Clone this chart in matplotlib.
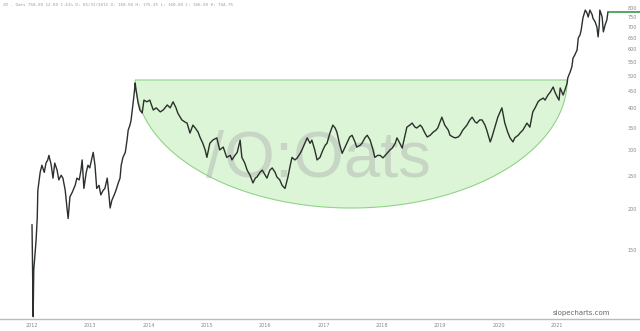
import numpy as np
import matplotlib
matplotlib.use('Agg')
import matplotlib.pyplot as plt
from matplotlib.patches import Polygon


# oats futures (decimal year, price)
dates = [
    2012.00, 2012.02, 2012.03, 2012.07, 2012.09, 2012.10, 2012.14, 2012.17, 2012.21, 2012.24,
    2012.27, 2012.29, 2012.33, 2012.36, 2012.39, 2012.43, 2012.46, 2012.50, 2012.53, 2012.57,
    2012.60, 2012.62, 2012.65, 2012.69, 2012.74, 2012.77, 2012.81, 2012.84, 2012.86, 2012.89,
    2012.93, 2012.96, 2012.99, 2013.03, 2013.05, 2013.08, 2013.11, 2013.15, 2013.18, 2013.22,
    2013.25, 2013.29, 2013.32, 2013.34, 2013.37, 2013.41, 2013.44, 2013.48, 2013.51, 2013.53,
    2013.56, 2013.60, 2013.63, 2013.65, 2013.68, 2013.70, 2013.73, 2013.75, 2013.77, 2013.78,
    2013.82, 2013.85, 2013.89, 2013.92, 2013.97, 2014.02, 2014.08, 2014.13, 2014.20, 2014.25,
    2014.32, 2014.37, 2014.42, 2014.47, 2014.50, 2014.57, 2014.62, 2014.66, 2014.71, 2014.76,
    2014.80, 2014.85, 2014.88, 2014.93, 2014.97, 2015.00, 2015.05, 2015.10, 2015.17, 2015.22,
    2015.28, 2015.34, 2015.40, 2015.43, 2015.48, 2015.52, 2015.57, 2015.60, 2015.65, 2015.69,
    2015.74, 2015.79, 2015.83, 2015.86, 2015.91, 2015.95, 2016.00, 2016.03, 2016.08, 2016.12,
    2016.17, 2016.20, 2016.25, 2016.29, 2016.34, 2016.39, 2016.43, 2016.46, 2016.51, 2016.55,
    2016.60, 2016.63, 2016.68, 2016.72, 2016.77, 2016.80, 2016.85, 2016.89, 2016.94, 2016.99,
    2017.03, 2017.06, 2017.11, 2017.16, 2017.20, 2017.23, 2017.28, 2017.32, 2017.37, 2017.40,
    2017.45, 2017.49, 2017.54, 2017.57, 2017.63, 2017.66, 2017.71, 2017.75, 2017.80, 2017.85,
    2017.88, 2017.93, 2017.97, 2018.02, 2018.09, 2018.14, 2018.18, 2018.23, 2018.26, 2018.31,
    2018.35, 2018.40, 2018.43, 2018.48, 2018.52, 2018.57, 2018.60, 2018.66, 2018.69, 2018.74,
    2018.78, 2018.83, 2018.88, 2018.93, 2018.96, 2019.00, 2019.03, 2019.08, 2019.14, 2019.17,
    2019.22, 2019.26, 2019.31, 2019.34, 2019.39, 2019.46, 2019.51, 2019.55, 2019.60, 2019.63,
    2019.68, 2019.72, 2019.77, 2019.80, 2019.86, 2019.89, 2019.94, 2019.99, 2020.03, 2020.06,
    2020.11, 2020.16, 2020.20, 2020.25, 2020.28, 2020.34, 2020.37, 2020.42, 2020.49, 2020.54,
    2020.59, 2020.63, 2020.68, 2020.71, 2020.77, 2020.80, 2020.85, 2020.89, 2020.94, 2020.97,
    2021.01, 2021.04, 2021.06, 2021.09, 2021.11, 2021.14, 2021.18, 2021.19, 2021.23, 2021.26,
    2021.28, 2021.31, 2021.35, 2021.37, 2021.40, 2021.42, 2021.45, 2021.49, 2021.52, 2021.54,
    2021.57, 2021.61, 2021.62, 2021.66, 2021.69, 2021.71, 2021.73, 2021.74, 2021.78, 2021.80,
    2021.83, 2021.86, 2021.88,
]
prices = [
    179, 95, 131, 161, 188, 227, 257, 270, 257, 274,
    280, 289, 270, 247, 274, 261, 244, 252, 247, 227,
    201, 187, 217, 224, 235, 247, 244, 261, 280, 230,
    257, 270, 265, 284, 295, 270, 230, 235, 220, 227,
    230, 247, 220, 201, 212, 220, 227, 239, 247, 270,
    285, 295, 321, 344, 356, 369, 409, 438, 476, 460,
    415, 395, 387, 423, 418, 423, 395, 401, 390, 395,
    409, 401, 418, 401, 387, 369, 364, 361, 337, 356,
    349, 339, 328, 314, 300, 285, 314, 321, 326, 300,
    306, 285, 289, 280, 289, 295, 321, 285, 274, 261,
    252, 239, 247, 249, 257, 261, 252, 247, 261, 265,
    257, 249, 244, 235, 230, 249, 270, 285, 280, 284,
    293, 300, 314, 326, 314, 321, 300, 280, 285, 300,
    310, 314, 337, 356, 349, 339, 310, 293, 306, 314,
    328, 332, 317, 306, 310, 314, 326, 332, 321, 300,
    285, 289, 289, 284, 293, 300, 304, 314, 326, 314,
    304, 332, 351, 356, 361, 351, 349, 356, 351, 337,
    328, 332, 339, 344, 349, 364, 376, 356, 344, 332,
    328, 326, 328, 332, 344, 356, 369, 376, 364, 361,
    369, 369, 356, 344, 317, 328, 351, 376, 390, 401,
    361, 339, 326, 317, 326, 332, 337, 344, 361, 351,
    390, 401, 418, 423, 429, 423, 438, 447, 463, 447,
    432, 423, 460, 447, 438, 453, 476, 493, 513, 532,
    565, 577, 598, 649, 663, 686, 745, 787, 771, 750,
    787, 761, 745, 725, 700, 654, 710, 787, 750, 677,
    710, 735, 777,
]

years = list(range(2012, 2022))
price_ticks = [150, 200, 250, 300, 350, 400, 450, 500, 550, 600, 650, 700, 750, 800]

# cup drawn over the base
cup_left, cup_right = 2013.77, 2021.18
cup_rim, cup_low = 486, 201

header = 'ZO - Oats 750.00 12.00 1.61% D: 01/31/2012 O: 160.50 H: 175.25 L: 160.00 C: 166.50 V: 744.75'


fig = plt.figure(figsize=(6.4, 3.31), dpi=100)
ax = fig.add_axes([0, 12/331, 1, 319/331])

ax.set_yscale('log')
ax.set_xlim(2011.451, 2022.429)
ax.set_ylim(93.5, 843.6)

# cup shape: half ellipse in log-price space
t = np.linspace(np.pi, 2*np.pi, 200)
xc = (cup_left + cup_right) / 2
xr = (cup_right - cup_left) / 2
lr, ll = np.log(cup_rim), np.log(cup_low)
cx = xc + xr*np.cos(t)
cy = np.exp(lr + (lr - ll)*np.sin(t))
pts = np.column_stack([cx, cy])
ax.add_patch(Polygon(pts, closed=True, facecolor='#dcf5d7', edgecolor='#8fd486',
                     linewidth=0.8, zorder=1))

ax.text(0.497, 0.50, '/O:Oats', transform=ax.transAxes, ha='center', va='center',
        fontsize=47, family='Liberation Sans', color='#a8a8a8', alpha=0.4, zorder=2)

ax.plot(dates, prices, color='#2c302c', linewidth=1.0, zorder=3)
ax.hlines(prices[-1], dates[-1], 2022.429, color='#2e8b3a', linewidth=1.1, zorder=3)

ax.set_xticks(years)
ax.set_xticklabels([str(y) for y in years])
ax.tick_params(axis='x', length=0, pad=3, labelsize=3.5, labelcolor='#888888')

ax.set_yticks(price_ticks)
ax.set_yticklabels([str(p) for p in price_ticks])
ax.yaxis.set_minor_locator(matplotlib.ticker.NullLocator())
ax.yaxis.tick_right()
ax.tick_params(axis='y', which='both', length=0, pad=-9, labelsize=3.5, labelcolor='#888888')

for s in ['top', 'left', 'right']:
    ax.spines[s].set_visible(False)
ax.spines['bottom'].set_color('#bbbbbb')
ax.spines['bottom'].set_linewidth(1.0)

fig.text(0.004, 0.986, header, fontsize=3.1, family='DejaVu Sans Mono', color='#9a9a9a',
         va='center', ha='left')
fig.text(0.953, 0.055, 'slopecharts.com', fontsize=5, color='#666666', ha='right', va='center')

fig.savefig('out.png', dpi=100)
